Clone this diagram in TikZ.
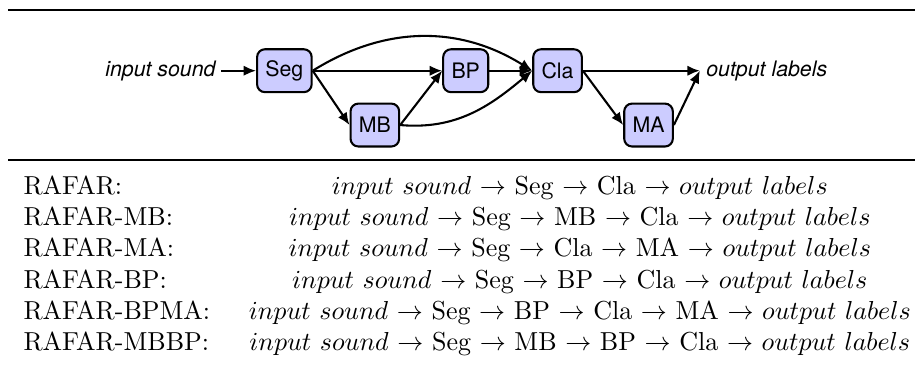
\documentclass[tikz,border=0pt]{standalone}
\usepackage{fontspec}
\setsansfont{TeX Gyre Heros}
\usepackage{amsmath,amssymb}
\usetikzlibrary{arrows.meta,positioning}

\definecolor{boxfill}{RGB}{204,204,255}
\newcommand{\insound}{$input~sound$}
\newcommand{\outlabels}{$output~labels$}
\newcommand{\thento}{~$\rightarrow$~}

\begin{document}
\begin{tikzpicture}[
    blk/.style={draw, line width=0.8pt, rounded corners=3pt, fill=boxfill, minimum height=16.5pt, inner xsep=3.2pt, font=\sffamily\fontsize{8.2}{9}\selectfont},
    lbl/.style={inner sep=2pt, font=\sffamily\itshape\fontsize{8.2}{9}\selectfont},
    arr/.style={-{Latex[length=4.8pt,width=4pt]}, line width=0.8pt}
]
\useasboundingbox (0,0) rectangle (352pt,-140.4pt);
% pipeline
\node[blk] (seg) at (109.4pt,-27.2pt) {Seg};
\node[blk, right=49.8pt of seg] (bp) {BP};
\node[blk, right=16.5pt of bp] (cla) {Cla};
\node[blk, below=3.6pt of seg, xshift=34.8pt] (mb) {MB};
\node[blk, below=3.6pt of cla, xshift=35pt] (ma) {MA};
\coordinate[right=45pt of cla] (out);
\node[lbl, left=13.4pt of seg] (insnd) {input sound};
\node[lbl, right=0.3pt of out] (outlbl) {output labels};
\draw[arr] (insnd) -- (seg);
\draw[arr] (seg) -- (bp);
\draw[arr] (seg.east) -- (mb.west);
\draw[arr] (mb.east) -- (bp.west);
\draw[arr] (seg.east) to[bend left=32] (cla.west);
\draw[arr] (mb.east) to[out=-5, in=-140] (cla.west);
\draw[arr] (bp) -- (cla);
\draw[arr] (cla) -- (out);
\draw[arr] (cla.east) -- (ma.west);
\draw[arr] (ma.east) -- (out);
% rules
\draw[line width=0.8pt] (3.1pt,-3.85pt) -- (352pt,-3.85pt);
\draw[line width=0.7pt] (3.1pt,-61.5pt) -- (352pt,-61.5pt);
% variants
\node[anchor=base west, inner sep=0pt] (variants) at (8.85pt,-74.8pt) {%
\begin{tabular}[t]{@{}l@{\hspace{14.9pt}}c@{}}
RAFAR: & \insound\thento Seg\thento Cla\thento \outlabels\\
RAFAR-MB: & \insound\thento Seg\thento MB\thento Cla\thento \outlabels\\
RAFAR-MA: & \insound\thento Seg\thento Cla\thento MA\thento \outlabels\\
RAFAR-BP: & \insound\thento Seg\thento BP\thento Cla\thento \outlabels\\
RAFAR-BPMA: & \insound\thento Seg\thento BP\thento Cla\thento MA\thento \outlabels\\
RAFAR-MBBP: & \insound\thento Seg\thento MB\thento BP\thento Cla\thento \outlabels
\end{tabular}};
\end{tikzpicture}
\end{document}
